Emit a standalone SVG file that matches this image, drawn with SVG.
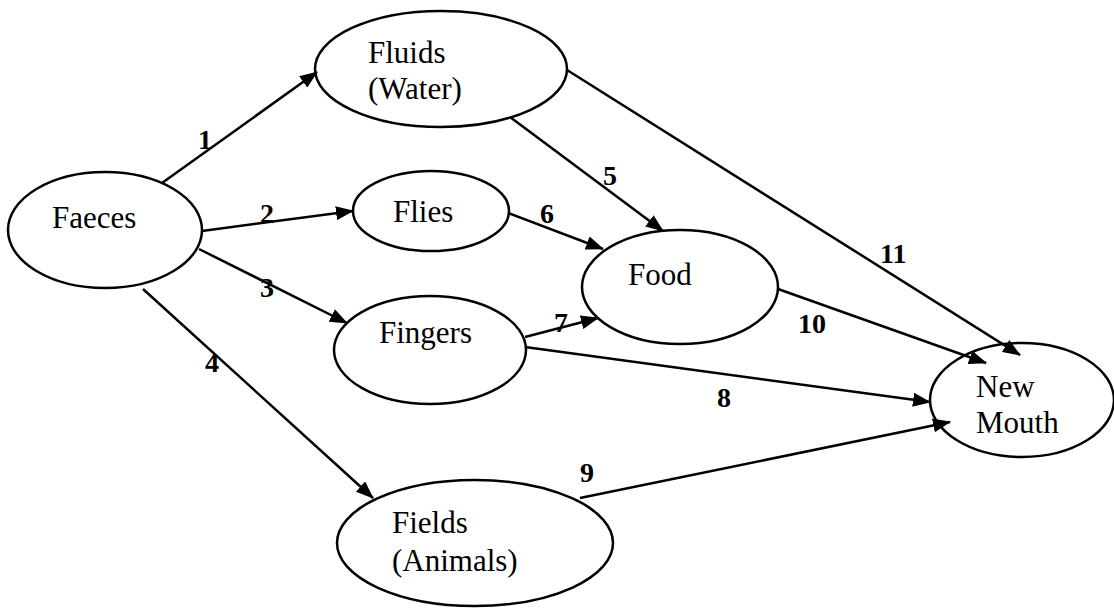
<svg xmlns="http://www.w3.org/2000/svg" width="1114" height="608" viewBox="0 0 1114 608">
<style>
.node ellipse{fill:#fff;stroke:#000;stroke-width:2.5}
.node text{font-family:"Liberation Serif","Times New Roman",serif;font-size:31px;fill:#000}
.edges line{stroke:#000;stroke-width:2.5}
.lbl{font-family:"Liberation Serif","Times New Roman",serif;font-size:28px;font-weight:bold;fill:#000}
</style>
<defs>
<marker id="ah" markerUnits="userSpaceOnUse" markerWidth="18" markerHeight="14" refX="17" refY="7" orient="auto">
<path d="M0,0 L18,7 L0,14 z" fill="#000"/>
</marker>
</defs>
<rect width="1114" height="608" fill="#fff"/>
<g id="node-faeces" class="node"><ellipse cx="105" cy="230" rx="97" ry="58"/><text x="52" y="228">Faeces</text></g>
<g id="node-fluids" class="node"><ellipse cx="441" cy="69" rx="126" ry="58"/><text x="368" y="63">Fluids</text><text x="368" y="99">(Water)</text></g>
<g id="node-flies" class="node"><ellipse cx="431" cy="211" rx="78" ry="40"/><text x="393" y="222">Flies</text></g>
<g id="node-food" class="node"><ellipse cx="680" cy="287" rx="98" ry="57"/><text x="628" y="285">Food</text></g>
<g id="node-fingers" class="node"><ellipse cx="430" cy="350" rx="96" ry="54"/><text x="379" y="343">Fingers</text></g>
<g id="node-newmouth" class="node"><ellipse cx="1022" cy="400" rx="92" ry="57"/><text x="976" y="397">New</text><text x="976" y="433">Mouth</text></g>
<g id="node-fields" class="node"><ellipse cx="475" cy="543" rx="138" ry="63"/><text x="392" y="533">Fields</text><text x="392" y="571">(Animals)</text></g>
<g class="edges" id="connectors">
<line x1="162" y1="183" x2="317" y2="72" marker-end="url(#ah)"/>
<line x1="202" y1="231" x2="353" y2="211" marker-end="url(#ah)"/>
<line x1="199" y1="249" x2="347" y2="323" marker-end="url(#ah)"/>
<line x1="143" y1="289" x2="373" y2="498" marker-end="url(#ah)"/>
<line x1="510" y1="117" x2="663" y2="231" marker-end="url(#ah)"/>
<line x1="508" y1="213" x2="603" y2="249" marker-end="url(#ah)"/>
<line x1="525" y1="337" x2="598" y2="318" marker-end="url(#ah)"/>
<line x1="525" y1="347" x2="930" y2="402" marker-end="url(#ah)"/>
<line x1="580" y1="498" x2="950" y2="422" marker-end="url(#ah)"/>
<line x1="778" y1="289" x2="986" y2="363" marker-end="url(#ah)"/>
<line x1="567" y1="70" x2="1020" y2="355" marker-end="url(#ah)"/>
</g>
<g id="labels">
<text class="lbl" x="198" y="149">1</text>
<text class="lbl" x="260" y="223">2</text>
<text class="lbl" x="260" y="297">3</text>
<text class="lbl" x="205" y="372">4</text>
<text class="lbl" x="603" y="185">5</text>
<text class="lbl" x="540" y="223">6</text>
<text class="lbl" x="554" y="332">7</text>
<text class="lbl" x="717" y="407">8</text>
<text class="lbl" x="580" y="482">9</text>
<text class="lbl" x="798" y="333">10</text>
<text class="lbl" x="880" y="263">11</text>
</g>
</svg>
